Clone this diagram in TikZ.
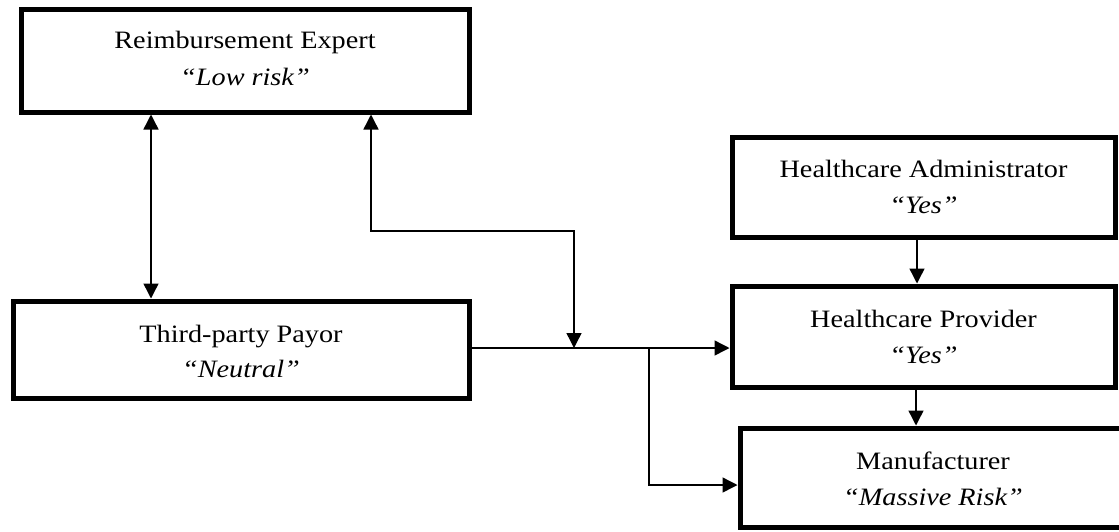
\documentclass[tikz,border=0pt]{standalone}
\usepackage{fontspec}
\setmainfont[FakeStretch=1.13]{Liberation Serif}
\usetikzlibrary{arrows.meta}

\begin{document}
\begin{tikzpicture}[x=1pt, y=-1pt,
  box/.style={draw=black, line width=5pt, fill=white, inner sep=0pt},
  conn/.style={draw=black, line width=1.4pt},
  tip/.style={-{Triangle[length=15pt,width=15pt]}},
  tips/.style={{Triangle[length=15pt,width=15pt]}-{Triangle[length=15pt,width=15pt]}},
  lbl/.style={anchor=base, inner sep=0pt, font=\fontsize{25}{30}\selectfont},
  sub/.style={lbl, font=\fontsize{25}{30}\selectfont\itshape}
]
\useasboundingbox (0,0) rectangle (1119,531);
\clip (0,0) rectangle (1119,531);

% boxes
\node[box, minimum width=448pt, minimum height=103pt] (rex)  at (245,60.5) {};
\node[box, minimum width=456pt, minimum height=97pt]  (pay)  at (241,349.5) {};
\node[box, minimum width=383pt, minimum height=100pt] (adm)  at (923.5,187) {};
\node[box, minimum width=383pt, minimum height=101pt] (prov) at (923.5,336.5) {};
\node[box, minimum width=386pt, minimum height=99.5pt] (manu) at (933,477.75) {};

% labels
\node[lbl] (rexA) at (245,48) {Reimbursement Expert};
\node[sub] (rexB) at (245,85) {“Low risk”};
\node[lbl] (payA) at (241,342) {Third-party Payor};
\node[sub] (payB) at (241,377) {“Neutral”};
\node[lbl] (admA) at (923.5,177) {Healthcare Administrator};
\node[sub] (admB) at (923.5,213) {“Yes”};
\node[lbl] (provA) at (923.5,327) {Healthcare Provider};
\node[sub] (provB) at (923.5,363) {“Yes”};
\node[lbl] (manuA) at (933,469) {Manufacturer};
\node[sub] (manuB) at (933,505) {“Massive Risk”};

% routing points
\coordinate (xa) at (151,0);
\coordinate (xb) at (371,0);
\coordinate (bend) at (574,231);
\coordinate (mj) at (574,348);
\coordinate (br) at (649,348);
\coordinate (brlow) at (649,485);
\coordinate (xc) at (917,0);
\coordinate (xd) at (916,0);

% connectors
\draw[conn, tips] (rex.south -| xa) -- (pay.north -| xa);
\draw[conn, tips] (rex.south -| xb) |- (bend) -- (mj);
\draw[conn, tip] (pay.east |- mj) -- (prov.west |- mj);
\draw[conn, tip] (br) -- (brlow) -- (manu.west |- brlow);
\draw[conn, tip] (adm.south -| xc) -- (prov.north -| xc);
\draw[conn, tip] (prov.south -| xd) -- (manu.north -| xd);
\end{tikzpicture}
\end{document}
